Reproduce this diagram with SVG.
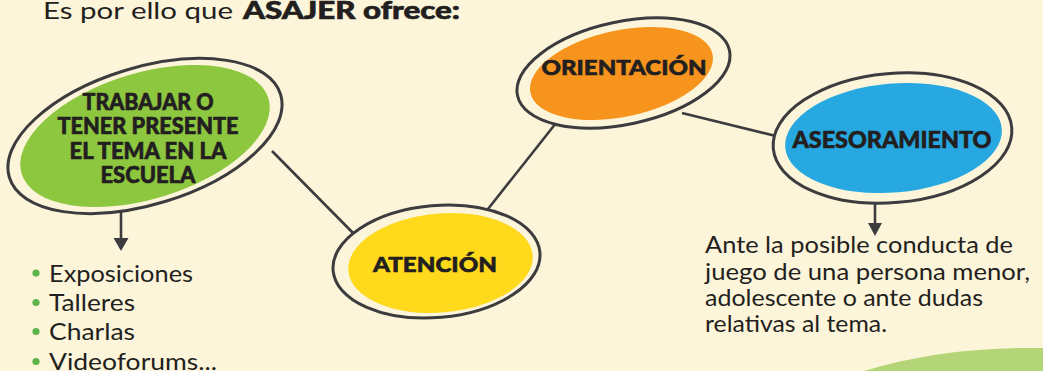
<svg xmlns="http://www.w3.org/2000/svg" width="1043" height="371" viewBox="0 0 1043 371">
  <style>
    .bg { fill: #FCF5DA; }
    .ring { fill: #FCF5DA; stroke: #3C3C3E; stroke-width: 3; }
    .conn { stroke: #3C3C3E; stroke-width: 2.6; fill: none; }
    .head { fill: #3C3C3E; }
    .lbl { font-family: Lato, "Noto Sans", sans-serif; font-weight: 900; fill: #231F20; stroke: #231F20; stroke-width: 0.6; text-anchor: middle; }
    .txt { font-family: Lato, "Noto Sans", sans-serif; font-weight: 400; fill: #231F20; }
    .bold { font-weight: 900; stroke: #231F20; stroke-width: 0.6; }
    .dot { fill: #5BB547; }
  </style>
  <rect class="bg" x="0" y="0" width="1043" height="371"/>
  <path d="M 864 371 C 920 354, 980 347, 1043 348 L 1043 371 Z" fill="#B4D577"/>

  <g id="title">
    <text class="txt" x="43" y="19" font-size="24" textLength="190" lengthAdjust="spacingAndGlyphs">Es por ello que</text>
    <text class="txt bold" x="243" y="19" font-size="24" textLength="217" lengthAdjust="spacingAndGlyphs">ASAJER ofrece:</text>
  </g>

  <g id="connectors">
    <line class="conn" x1="272" y1="151" x2="356" y2="236"/>
    <line class="conn" x1="488" y1="209" x2="560" y2="118"/>
    <line class="conn" x1="682" y1="113" x2="776" y2="136"/>
    <line class="conn" x1="121" y1="210" x2="121" y2="242"/>
    <polygon class="head" points="113.5,238 128.5,238 121,251"/>
    <line class="conn" x1="875" y1="200" x2="875" y2="226"/>
    <polygon class="head" points="868,223 882,223 875,236"/>
  </g>

  <g id="node-escuela">
    <ellipse class="ring" cx="145" cy="136" rx="141.8" ry="68.5" transform="rotate(-17 145 136)"/>
    <ellipse cx="145" cy="136" rx="129" ry="63" fill="#8DC63F" transform="rotate(-17 145 136)"/>
    <text class="lbl" x="148" y="110" font-size="22" textLength="131" lengthAdjust="spacingAndGlyphs">TRABAJAR O</text>
    <text class="lbl" x="148" y="134" font-size="22" textLength="181" lengthAdjust="spacingAndGlyphs">TENER PRESENTE</text>
    <text class="lbl" x="148" y="159" font-size="22" textLength="157" lengthAdjust="spacingAndGlyphs">EL TEMA EN LA</text>
    <text class="lbl" x="148" y="183" font-size="22" textLength="95" lengthAdjust="spacingAndGlyphs">ESCUELA</text>
  </g>

  <g id="node-atencion">
    <ellipse class="ring" cx="436.5" cy="261.5" rx="103.8" ry="56" transform="rotate(-5 436.5 261.5)"/>
    <ellipse cx="440.5" cy="263" rx="92.5" ry="49.5" fill="#FFD91C" transform="rotate(-5 440.5 263)"/>
    <text class="lbl" x="435" y="272" font-size="21.5" textLength="124" lengthAdjust="spacingAndGlyphs">ATENCIÓN</text>
  </g>

  <g id="node-orientacion">
    <ellipse class="ring" cx="623.5" cy="73" rx="108.4" ry="51.3" transform="rotate(-12 623.5 73)"/>
    <ellipse cx="621.5" cy="73.5" rx="93.1" ry="43.2" fill="#F7941D" transform="rotate(-12 621.5 73.5)"/>
    <text class="lbl" x="624" y="75" font-size="21.5" textLength="165" lengthAdjust="spacingAndGlyphs">ORIENTACIÓN</text>
  </g>

  <g id="node-asesoramiento">
    <ellipse class="ring" cx="892.5" cy="138" rx="119.7" ry="64.6" transform="rotate(-5 892.5 138)"/>
    <ellipse cx="893.5" cy="138" rx="108.7" ry="54.5" fill="#27A8E0" transform="rotate(-5 893.5 138)"/>
    <text class="lbl" x="892" y="148" font-size="23" textLength="199" lengthAdjust="spacingAndGlyphs">ASESORAMIENTO</text>
  </g>

  <g id="list-escuela">
    <circle class="dot" cx="36" cy="273" r="3.6"/>
    <circle class="dot" cx="36" cy="302.5" r="3.6"/>
    <circle class="dot" cx="36" cy="331.5" r="3.6"/>
    <circle class="dot" cx="36" cy="361.5" r="3.6"/>
    <text class="txt" x="49" y="282" font-size="24" textLength="144" lengthAdjust="spacingAndGlyphs">Exposiciones</text>
    <text class="txt" x="49" y="311" font-size="24" textLength="86" lengthAdjust="spacingAndGlyphs">Talleres</text>
    <text class="txt" x="49" y="340" font-size="24" textLength="86" lengthAdjust="spacingAndGlyphs">Charlas</text>
    <text class="txt" x="49" y="370" font-size="24" textLength="168" lengthAdjust="spacingAndGlyphs">Videoforums...</text>
  </g>

  <g id="text-asesoramiento">
    <text class="txt" x="705" y="253" font-size="23.5" textLength="308" lengthAdjust="spacingAndGlyphs">Ante la posible conducta de</text>
    <text class="txt" x="705" y="280" font-size="23.5" textLength="325" lengthAdjust="spacingAndGlyphs">juego de una persona menor,</text>
    <text class="txt" x="705" y="306" font-size="23.5" textLength="278" lengthAdjust="spacingAndGlyphs">adolescente o ante dudas</text>
    <text class="txt" x="705" y="332" font-size="23.5" textLength="182" lengthAdjust="spacingAndGlyphs">relativas al tema.</text>
  </g>
</svg>
